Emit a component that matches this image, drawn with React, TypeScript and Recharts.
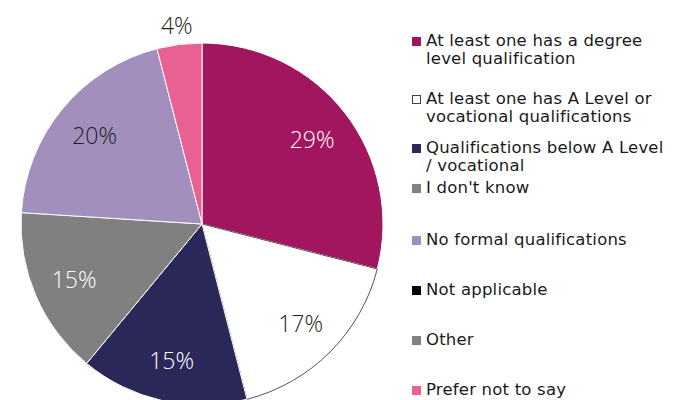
import React from 'react';
import { PieChart, Pie, Cell, Legend } from 'recharts';

const categories = [
  'At least one has a degree level qualification',
  'At least one has A Level or vocational qualifications',
  'Qualifications below A Level / vocational',
  "I don't know",
  'No formal qualifications',
  'Not applicable',
  'Other',
  'Prefer not to say',
];

// legend text is wrapped by hand, as in the original slide
const legendLines = [
  ['At least one has a degree', 'level qualification'],
  ['At least one has A Level or', 'vocational qualifications'],
  ['Qualifications below A Level', '/ vocational'],
  ["I don't know"],
  ['No formal qualifications'],
  ['Not applicable'],
  ['Other'],
  ['Prefer not to say'],
];

const shares = [29, 17, 15, 15, 20, 0, 0, 4];

const colors = ['#A1165E', '#FFFFFF', '#2A2859', '#808080', '#A38FBE', '#000000', '#808080', '#E96092'];
const labelColors = ['#FFFFFF', '#222222', '#FFFFFF', '#FFFFFF', '#222222', '#222222', '#222222', '#222222'];

// vertical gap before each legend entry (px)
const legendGaps = [32, 22, 13, 4, 34, 32, 32, 32];

const data = categories
  .map((name, i) => ({ name, value: shares[i], idx: i }))
  .filter((d) => d.value > 0);

const RADIAN = Math.PI / 180;
const LEGEND_FONT = "'DejaVu Sans', sans-serif";
const LABEL_FONT = "'Open Sans', sans-serif";

const renderLabel = (props: any) => {
  const { cx, cy, midAngle, outerRadius, value, payload } = props;
  const outside = value < 5;
  const r = outside ? outerRadius + 20 : outerRadius * 0.77;
  const x = cx + r * Math.cos(-midAngle * RADIAN);
  const y = cy + r * Math.sin(-midAngle * RADIAN);
  return (
    <text
      x={x}
      y={y}
      fill={labelColors[payload.idx]}
      textAnchor="middle"
      dominantBaseline="central"
      style={{ fontFamily: LABEL_FONT, fontSize: 23, fontWeight: 300 }}
    >
      {`${value}%`}
    </text>
  );
};

const LegendBox = () => (
  <div style={{ fontFamily: LEGEND_FONT, fontSize: 16.5, color: '#1a1a1a', lineHeight: '18px', letterSpacing: 0.2 }}>
    {categories.map((c, i) => (
      <div key={c} style={{ display: 'flex', marginTop: legendGaps[i] }}>
        <div
          style={{
            width: 9,
            height: 9,
            marginTop: 5,
            marginRight: 5,
            flexShrink: 0,
            boxSizing: 'border-box',
            background: colors[i],
            border: colors[i] === '#FFFFFF' ? '1px solid #444' : 'none',
          }}
        />
        <div>
          {legendLines[i].map((l) => (
            <div key={l} style={{ whiteSpace: 'nowrap' }}>{l}</div>
          ))}
        </div>
      </div>
    ))}
  </div>
);

export default function App() {
  return (
    <div style={{ position: 'absolute', left: 0, top: 0, width: 691, height: 400, background: '#fff' }}>
      <PieChart width={691} height={400} margin={{ top: 0, right: 0, bottom: 0, left: 0 }}>
        <Pie
          data={data}
          dataKey="value"
          nameKey="name"
          cx={202}
          cy={224}
          outerRadius={181}
          startAngle={90}
          endAngle={-270}
          label={renderLabel}
          labelLine={false}
          isAnimationActive={false}
        >
          {data.map((d) => (
            <Cell
              key={d.name}
              fill={colors[d.idx]}
              stroke={colors[d.idx] === '#FFFFFF' ? '#555555' : '#FFFFFF'}
              strokeWidth={1}
            />
          ))}
        </Pie>
        <Legend
          layout="vertical"
          verticalAlign="top"
          align="right"
          content={<LegendBox />}
          wrapperStyle={{ left: 412, top: 0, width: 279 }}
        />
      </PieChart>
    </div>
  );
}
